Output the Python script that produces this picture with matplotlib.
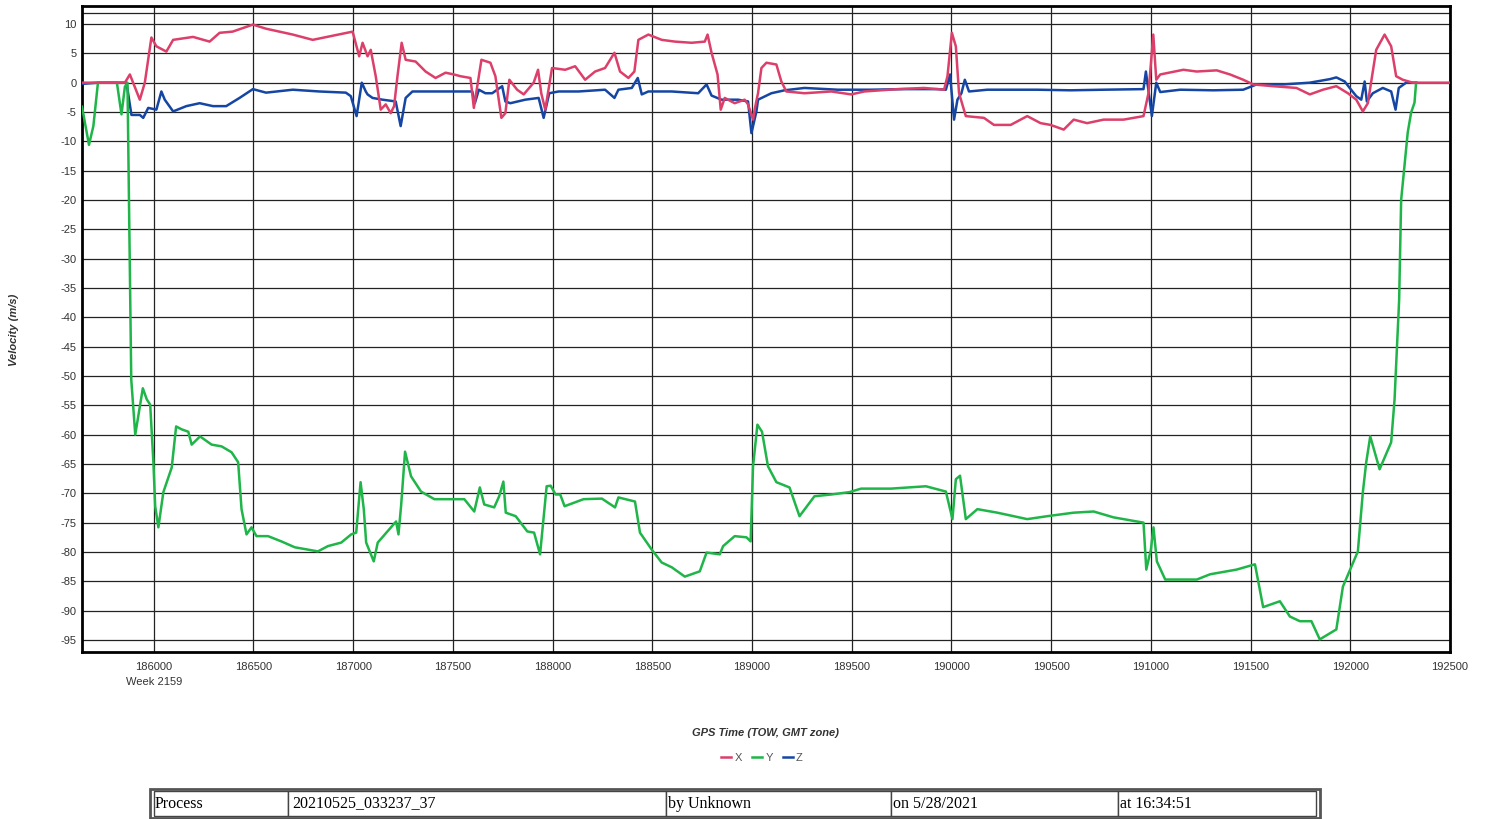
import matplotlib
matplotlib.use("Agg")
import matplotlib.pyplot as plt
from matplotlib.lines import Line2D

# GPS time of week (s) and velocity (m/s)
x_time = [185640, 185855, 185880, 185930, 185955, 185988, 186013, 186063, 186097, 186197,
          186280, 186330, 186395, 186497, 186563, 186697, 186797, 186897, 186997, 187030,
          187047, 187072, 187088, 187113, 187138, 187163, 187188, 187205, 187222, 187243,
          187263, 187313, 187363, 187413, 187463, 187505, 187538, 187588, 187605, 187627,
          187643, 187688, 187713, 187743, 187763, 187783, 187822, 187855, 187905, 187927,
          187943, 187963, 187997, 188063, 188113, 188163, 188213, 188263, 188310, 188338,
          188380, 188410, 188430, 188480, 188547, 188613, 188697, 188763, 188777, 188797,
          188827, 188843, 188863, 188913, 188963, 188980, 189005, 189013, 189030, 189047,
          189072, 189122, 189147, 189172, 189263, 189397, 189497, 189563, 189730, 189863,
          189963, 189980, 190002, 190022, 190038, 190072, 190163, 190213, 190297, 190380,
          190447, 190497, 190563, 190613, 190680, 190763, 190863, 190963, 190988, 191012,
          191027, 191047, 191163, 191230, 191330, 191397, 191463, 191513, 191613, 191730,
          191797, 191863, 191930, 191988, 192030, 192063, 192088, 192130, 192172, 192205,
          192230, 192263, 192313, 192500]
x_vel = [0, 0, 1.4, -2.9, 0, 7.7, 6.2, 5.3, 7.3, 7.8,
         7.0, 8.5, 8.7, 9.9, 9.2, 8.2, 7.3, 8.0, 8.7, 4.5,
         6.8, 4.5, 5.6, 1.1, -4.6, -3.7, -5.2, -4.0, 1.1, 6.8,
         3.9, 3.6, 1.9, 0.8, 1.7, 1.4, 1.1, 0.8, -4.3, 0.5,
         3.9, 3.4, 1.1, -6.0, -5.2, 0.5, -1.2, -2.0, 0, 2.2,
         -1.8, -4.6, 2.5, 2.2, 2.8, 0.5, 1.9, 2.5, 5.1, 1.9,
         0.8, 1.9, 7.3, 8.2, 7.3, 7.0, 6.8, 7.0, 8.2, 5.1,
         1.4, -4.6, -2.6, -3.5, -2.9, -3.7, -6.3, -4.6, -1.8, 2.5,
         3.4, 3.1, 0.2, -1.5, -1.8, -1.5, -2.0, -1.5, -1.1, -0.9,
         -1.2, 1.1, 8.5, 6.2, -1.8, -5.7, -6.0, -7.2, -7.2, -5.7,
         -6.9, -7.2, -8.0, -6.3, -6.9, -6.3, -6.3, -5.7, -1.8, 8.2,
         0.5, 1.4, 2.2, 1.9, 2.1, 1.4, 0.5, -0.3, -0.6, -0.9,
         -2.0, -1.2, -0.6, -1.8, -2.9, -4.9, -3.5, 5.6, 8.2, 6.2,
         1.1, 0.5, 0, 0]

y_time = [185640, 185675, 185697, 185720, 185815, 185838, 185855, 185868, 185887, 185907,
          185945, 185965, 185982, 185998, 186007, 186023, 186048, 186090, 186112, 186140,
          186173, 186190, 186232, 186290, 186340, 186390, 186423, 186440, 186465, 186490,
          186515, 186573, 186640, 186707, 186823, 186873, 186940, 186990, 187015, 187037,
          187053, 187065, 187103, 187123, 187215, 187227, 187240, 187260, 187290, 187340,
          187407, 187557, 187607, 187635, 187657, 187707, 187732, 187753, 187765, 187815,
          187873, 187907, 187937, 187970, 187990, 188015, 188038, 188060, 188155, 188247,
          188313, 188330, 188413, 188438, 188497, 188547, 188597, 188663, 188738, 188772,
          188838, 188855, 188913, 188972, 188993, 189005, 189027, 189050, 189080, 189122,
          189188, 189238, 189313, 189397, 189488, 189547, 189697, 189872, 189972, 190005,
          190022, 190043, 190072, 190130, 190230, 190380, 190480, 190613, 190713, 190813,
          190963, 190977, 191000, 191013, 191030, 191072, 191230, 191297, 191430, 191522,
          191563, 191647, 191697, 191747, 191805, 191847, 191930, 191963, 192038, 192063,
          192080, 192100, 192147, 192205, 192222, 192245, 192255, 192288, 192305, 192322,
          192330]
y_vel = [-4.1, -10.6, -7.4, 0, 0, -5.4, -0.7, 0, -50.6, -60.0,
         -52.1, -54.0, -54.9, -64.7, -72.2, -75.8, -69.8, -65.6, -58.6, -59.1,
         -59.5, -61.7, -60.3, -61.7, -62.0, -63.0, -64.7, -72.7, -77.0, -75.8,
         -77.3, -77.3, -78.2, -79.2, -79.9, -79.0, -78.4, -77.0, -76.7, -68.1,
         -72.7, -78.4, -81.6, -78.4, -74.8, -77.0, -72.2, -62.9, -67.1, -69.7,
         -71.0, -71.0, -73.1, -69.0, -71.9, -72.4, -70.5, -68.0, -73.3, -73.9,
         -76.5, -76.7, -80.4, -68.8, -68.7, -70.2, -70.2, -72.2, -71.0, -70.9,
         -72.4, -70.7, -71.4, -76.7, -79.6, -81.8, -82.6, -84.2, -83.3, -80.1,
         -80.4, -79.0, -77.3, -77.5, -78.2, -65.4, -58.3, -59.5, -65.4, -68.1,
         -69.0, -73.9, -70.5, -70.2, -69.8, -69.2, -69.2, -68.8, -69.7, -74.4,
         -67.6, -67.0, -74.4, -72.7, -73.3, -74.4, -73.9, -73.3, -73.1, -74.1,
         -75.0, -83.0, -79.6, -75.8, -81.6, -84.7, -84.7, -83.8, -83.0, -82.1,
         -89.4, -88.4, -91.0, -91.8, -91.8, -94.9, -93.2, -85.9, -79.9, -69.8,
         -64.7, -60.3, -65.9, -61.3, -54.0, -37.0, -20.0, -8.5, -5.1, -3.4,
         0]

z_time = [185640, 185720, 185863, 185888, 185930, 185947, 185972, 186013, 186038, 186055,
          186097, 186163, 186230, 186297, 186363, 186430, 186497, 186563, 186697, 186830,
          186963, 186988, 187017, 187043, 187063, 187072, 187097, 187147, 187213, 187238,
          187263, 187297, 187397, 187597, 187610, 187630, 187663, 187697, 187747, 187763,
          187788, 187863, 187930, 187955, 187983, 188030, 188130, 188263, 188310, 188330,
          188397, 188427, 188447, 188480, 188597, 188730, 188772, 188797, 188847, 188930,
          188980, 188997, 189022, 189030, 189097, 189163, 189263, 189430, 189597, 189763,
          189930, 189972, 189993, 190013, 190030, 190050, 190067, 190088, 190180, 190430,
          190597, 190763, 190963, 190975, 191005, 191027, 191047, 191147, 191313, 191463,
          191530, 191663, 191797, 191897, 191930, 191972, 191997, 192030, 192055, 192072,
          192083, 192113, 192163, 192205, 192227, 192243, 192280, 192330]
z_vel = [-0.2, 0, 0, -5.5, -5.5, -6.0, -4.3, -4.6, -1.5, -2.9,
         -4.9, -4.0, -3.5, -4.0, -4.0, -2.6, -1.1, -1.7, -1.2, -1.5,
         -1.7, -2.3, -5.7, 0, -1.5, -2.0, -2.6, -2.9, -3.2, -7.4,
         -2.6, -1.5, -1.5, -1.5, -3.5, -1.2, -1.8, -1.8, -0.6, -3.2,
         -3.5, -2.9, -2.6, -6.0, -1.8, -1.5, -1.5, -1.2, -2.6, -1.2,
         -0.9, 0.8, -2.0, -1.5, -1.5, -1.8, -0.3, -2.2, -2.9, -2.9,
         -3.2, -8.6, -4.9, -2.9, -1.8, -1.3, -0.9, -1.2, -1.2, -1.1,
         -1.1, -1.2, 1.4, -6.3, -2.9, -1.8, 0.5, -1.5, -1.2, -1.2,
         -1.3, -1.2, -1.1, 1.9, -5.7, 0, -1.6, -1.2, -1.3, -1.2,
         -0.3, -0.3, 0, 0.6, 0.9, 0.2, -0.9, -2.3, -2.9, 0.2,
         -3.2, -1.8, -0.9, -1.5, -4.6, -0.9, 0, 0]

series_names = ["X", "Y", "Z"]
series_colors = ["#dc3f6a", "#1fb548", "#1546a3"]

x_ticks = [186000, 186500, 187000, 187500, 188000, 188500, 189000, 189500,
           190000, 190500, 191000, 191500, 192000, 192500]
y_ticks = list(range(10, -100, -5))

table_cells = ["Process", "20210525_033237_37", "by Unknown", "on 5/28/2021", "at 16:34:51"]
table_widths = [135, 379, 225, 228, 199]

plt.rcParams['font.family'] = ['Liberation Sans', 'DejaVu Sans']

fig = plt.figure(figsize=(14.85, 8.19), dpi=100)
ax = fig.add_axes([82 / 1485, 1 - 652 / 819, (1450 - 82) / 1485, (652 - 6) / 819])

ax.plot(z_time, z_vel, color=series_colors[2], lw=1.8, zorder=3)
ax.plot(y_time, y_vel, color=series_colors[1], lw=1.8, zorder=3)
ax.plot(x_time, x_vel, color=series_colors[0], lw=1.8, zorder=4)

ax.set_xlim(185640, 192480)
ax.set_ylim(-97.05, 13.07)
ax.set_xticks(x_ticks)
ax.set_yticks(y_ticks)
ax.set_xticklabels([str(t) for t in x_ticks])
ax.set_yticklabels([str(v) for v in y_ticks])
ax.tick_params(axis='both', length=0, labelsize=8, labelcolor='#333333')
ax.tick_params(axis='x', pad=7)
ax.tick_params(axis='y', pad=4)
ax.grid(True, color='#222222', lw=0.9)
ax.axhline(11.9, color='#222222', lw=0.9)
for s in ax.spines.values():
    s.set_linewidth(2.0)
    s.set_color('black')

ax.text(186000, -97.05 - 20 / 5.867 - 0.9, "Week 2159", ha='center', va='top',
        fontsize=8, color='#333333')

fig.text(14 / 1485, 1 - 330 / 819, "Velocity (m/s)", rotation=90, ha='center', va='center',
         fontsize=8, fontweight='bold', style='italic', color='#333333')
fig.text(766 / 1485, 1 - 733 / 819, "GPS Time (TOW, GMT zone)", ha='center', va='center',
         fontsize=8, fontweight='bold', style='italic', color='#333333')

handles = [Line2D([], [], color=c, lw=1.8) for c in series_colors]
leg = fig.legend(handles, series_names, loc='center', bbox_to_anchor=(762 / 1485, 1 - 758 / 819),
                 ncol=3, frameon=False, fontsize=8, handlelength=0.9, handletextpad=0.3,
                 columnspacing=0.9)
for t in leg.get_texts():
    t.set_color('#555555')

# info table at the bottom
tax = fig.add_axes([150 / 1485, 1 - 818 / 819, 1170 / 1485, 29 / 819])
tax.axis('off')
total = sum(table_widths)
tbl = tax.table(cellText=[table_cells], colWidths=[w / total for w in table_widths],
                cellLoc='left', bbox=[0.003, 0.07, 0.994, 0.86])
tbl.auto_set_font_size(False)
for (r, c), cell in tbl.get_celld().items():
    cell.set_edgecolor('#444444')
    cell.set_linewidth(1.0)
    cell.PAD = 0.01
    cell.get_text().set_fontfamily(['Liberation Serif', 'DejaVu Serif'])
    cell.get_text().set_fontsize(11.5)
tax.add_patch(plt.Rectangle((0, 0), 1, 1, transform=tax.transAxes, fill=False,
                            edgecolor='#555555', lw=2, clip_on=False))

fig.savefig("out.png", dpi=100)
plt.close(fig)
